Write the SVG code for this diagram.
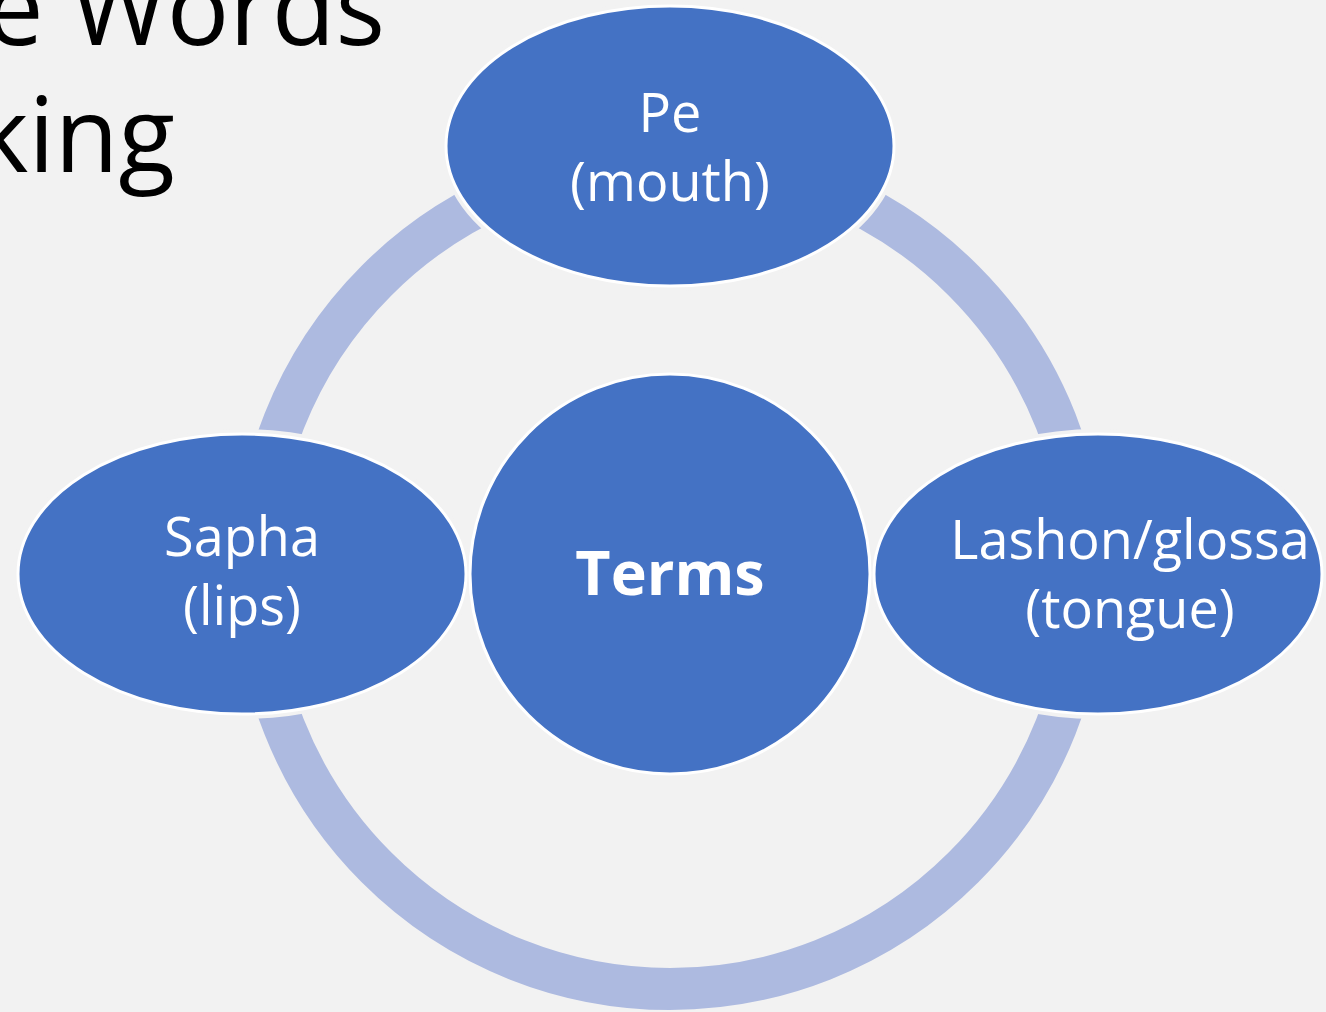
<svg xmlns="http://www.w3.org/2000/svg" width="1326" height="1012" viewBox="0 0 1326 1012">
  <style>
    .title { font-family: "Open Sans", "Liberation Sans", sans-serif; font-size: 104px; fill: #000000; }
    .node { fill: #4472c4; stroke: #ffffff; stroke-width: 3; }
    .halo { fill: none; stroke: #f2f2f2; stroke-width: 10; }
    .lbl { font-family: "Open Sans", "Liberation Sans", sans-serif; font-size: 54px; fill: #ffffff; text-anchor: middle; }
    .center { font-family: "Open Sans", "Liberation Sans", sans-serif; font-size: 61px; font-weight: bold; fill: #ffffff; text-anchor: middle; }
    .ring { fill: none; stroke: #adbae0; stroke-width: 42; }
  </style>
  <rect x="0" y="0" width="1326" height="1012" fill="#f2f2f2"/>
  <g id="title">
    <text class="title" x="385" y="45" text-anchor="end">e Words</text>
    <text class="title" x="175" y="172" text-anchor="end">king</text>
  </g>
  <g id="connectors">
    <circle class="ring" cx="670" cy="574" r="415"/>
  </g>
  <g id="node-pe">
    <ellipse class="halo" cx="670" cy="146" rx="224" ry="140"/>
    <ellipse class="node" cx="670" cy="146" rx="224" ry="140"/>
    <text class="lbl" x="670" y="132">Pe</text>
    <text class="lbl" x="670" y="201">(mouth)</text>
  </g>
  <g id="node-sapha">
    <ellipse class="halo" cx="242" cy="574" rx="224" ry="140"/>
    <ellipse class="node" cx="242" cy="574" rx="224" ry="140"/>
    <text class="lbl" x="242" y="556">Sapha</text>
    <text class="lbl" x="242" y="625">(lips)</text>
  </g>
  <g id="node-lashon">
    <ellipse class="halo" cx="1098" cy="574" rx="224" ry="140"/>
    <ellipse class="node" cx="1098" cy="574" rx="224" ry="140"/>
    <text class="lbl" x="1130" y="559">Lashon/glossa</text>
    <text class="lbl" x="1130" y="628">(tongue)</text>
  </g>
  <g id="node-terms">
    <circle class="node" cx="670" cy="574" r="200"/>
    <text class="center" x="670" y="595">Terms</text>
  </g>
</svg>
